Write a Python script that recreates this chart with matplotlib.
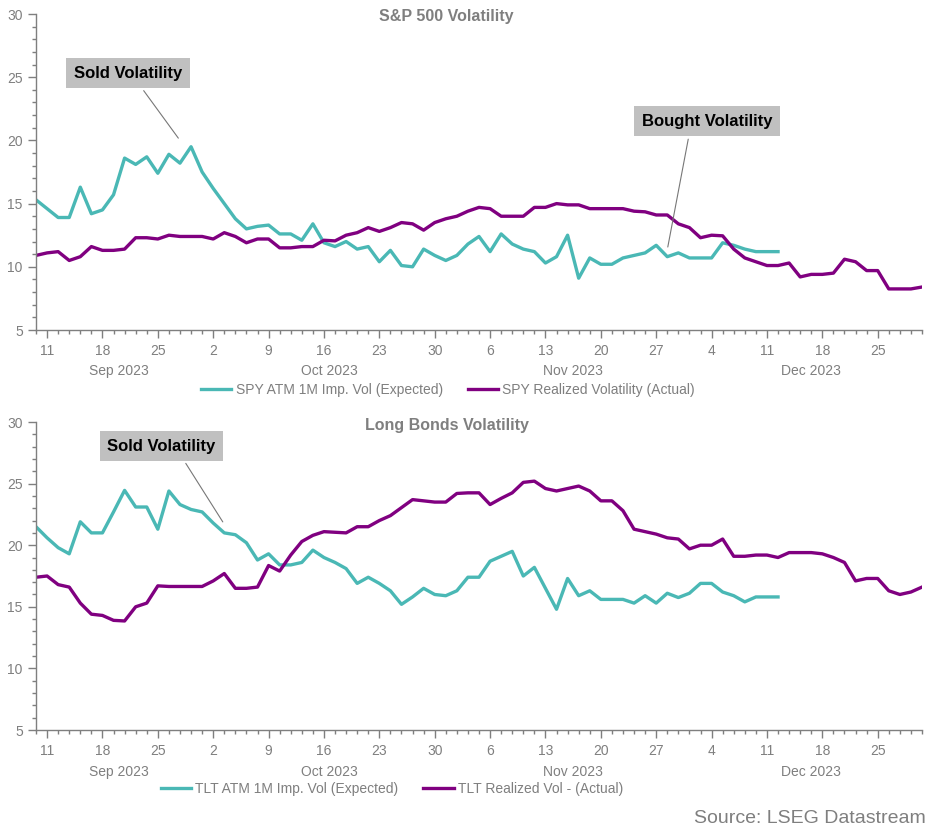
import numpy as np
import pandas as pd
import matplotlib
matplotlib.use("Agg")
import matplotlib.pyplot as plt
from matplotlib.ticker import MultipleLocator, FixedLocator
import matplotlib.transforms as mtransforms

plt.rcParams['font.family'] = ['Liberation Sans Narrow', 'Liberation Sans', 'DejaVu Sans']

# business days shown on the axis
dates = pd.bdate_range('2023-09-08', '2023-12-29')

spy_implied = [15.3, 14.6, 13.9, 13.9, 16.3, 14.2, 14.5, 15.7, 18.6, 18.1,
               18.7, 17.4, 18.9, 18.2, 19.5, 17.5, 16.2, 15.0, 13.8, 13.0,
               13.2, 13.3, 12.6, 12.6, 12.1, 13.4, 11.9, 11.6, 12.0, 11.4,
               11.6, 10.4, 11.3, 10.1, 10.0, 11.4, 10.9, 10.5, 10.9, 11.8,
               12.4, 11.2, 12.6, 11.8, 11.4, 11.2, 10.3, 10.8, 12.5, 9.1,
               10.7, 10.2, 10.2, 10.7, 10.9, 11.1, 11.7, 10.8, 11.1, 10.7,
               10.7, 10.7, 11.9, 11.7, 11.4, 11.2, 11.2, 11.2]
spy_realized = [10.9, 11.1, 11.2, 10.5, 10.8, 11.6, 11.3, 11.3, 11.4, 12.3,
                12.3, 12.2, 12.5, 12.4, 12.4, 12.4, 12.2, 12.7, 12.4, 11.9,
                12.2, 12.2, 11.5, 11.5, 11.6, 11.6, 12.1, 12.05, 12.5, 12.7,
                13.1, 12.8, 13.1, 13.5, 13.4, 12.9, 13.5, 13.8, 14.0, 14.4,
                14.7, 14.6, 14.0, 14.0, 14.0, 14.7, 14.7, 15.0, 14.9, 14.9,
                14.6, 14.6, 14.6, 14.6, 14.4, 14.35, 14.1, 14.1, 13.4, 13.1,
                12.3, 12.5, 12.45, 11.4, 10.7, 10.4, 10.1, 10.1, 10.3, 9.2,
                9.4, 9.4, 9.5, 10.6, 10.4, 9.7, 9.7, 8.25, 8.25, 8.25, 8.4]

tlt_implied = [21.5, 20.6, 19.8, 19.3, 21.9, 21.0, 21.0, 22.7, 24.45, 23.1,
               23.1, 21.3, 24.4, 23.3, 22.9, 22.7, 21.8, 21.0, 20.85, 20.2,
               18.8, 19.3, 18.4, 18.4, 18.6, 19.6, 19.0, 18.6, 18.1, 16.9,
               17.4, 16.9, 16.3, 15.2, 15.8, 16.5, 16.0, 15.9, 16.3, 17.4,
               17.4, 18.7, 19.1, 19.5, 17.5, 18.2, 16.5, 14.8, 17.3, 15.9,
               16.3, 15.6, 15.6, 15.6, 15.3, 15.9, 15.3, 16.1, 15.75, 16.1,
               16.9, 16.9, 16.2, 15.9, 15.4, 15.8, 15.8, 15.8]
tlt_realized = [17.4, 17.5, 16.8, 16.6, 15.3, 14.4, 14.3, 13.9, 13.85, 15.0,
                15.3, 16.7, 16.65, 16.65, 16.65, 16.65, 17.1, 17.7, 16.5, 16.5,
                16.6, 18.35, 17.9, 19.2, 20.3, 20.8, 21.1, 21.05, 21.0, 21.5,
                21.5, 22.0, 22.4, 23.05, 23.7, 23.6, 23.5, 23.5, 24.2, 24.25,
                24.25, 23.3, 23.8, 24.25, 25.1, 25.2, 24.6, 24.4, 24.6, 24.8,
                24.4, 23.6, 23.6, 22.8, 21.3, 21.1, 20.9, 20.6, 20.5, 19.7,
                20.0, 20.0, 20.5, 19.1, 19.1, 19.2, 19.2, 19.0, 19.4, 19.4,
                19.4, 19.3, 19.0, 18.6, 17.1, 17.3, 17.3, 16.3, 16.0, 16.2, 16.6]

TEAL = '#4ab8b5'
PURPLE = '#800080'
GREY = '#7f7f7f'

fig = plt.figure(figsize=(9.28, 8.30), dpi=100)
ax1 = fig.add_axes([36 / 928, 1 - 330 / 830, 886 / 928, 316 / 830])
ax2 = fig.add_axes([36 / 928, 1 - 730 / 830, 886 / 928, 308 / 830])

idx = np.arange(len(dates))
mondays = [i for i, d in enumerate(dates) if d.weekday() == 0]


def style_axis(ax, month_y):
    ax.set_xlim(0, len(dates) - 1)
    ax.set_ylim(5, 30)
    for s in ['top', 'right']:
        ax.spines[s].set_visible(False)
    for s in ['left', 'bottom']:
        ax.spines[s].set_color(GREY)
        ax.spines[s].set_linewidth(1.0)
    ax.yaxis.set_major_locator(MultipleLocator(5))
    ax.yaxis.set_minor_locator(MultipleLocator(1))
    ax.xaxis.set_major_locator(FixedLocator(mondays))
    ax.xaxis.set_minor_locator(MultipleLocator(1))
    ax.set_xticklabels([str(dates[i].day) for i in mondays])
    ax.tick_params(axis='both', which='major', colors=GREY, labelsize=10, length=6, width=1)
    ax.tick_params(axis='both', which='minor', colors=GREY, length=3, width=1)
    ax.tick_params(axis='x', pad=4)
    # month labels centred under each month's span
    trans = mtransforms.blended_transform_factory(ax.transData, ax.transAxes)
    months = pd.Series(idx, index=dates).groupby(dates.to_period('M'))
    for per, grp in months:
        ax.text((grp.min() + grp.max()) / 2, month_y, per.strftime('%b %Y'),
                transform=trans, ha='center', va='center', color=GREY, fontsize=10)


# top chart
ax1.plot(idx[:len(spy_implied)], spy_implied, color=TEAL, lw=2.4, label='SPY ATM 1M Imp. Vol (Expected)')
ax1.plot(idx[:len(spy_realized)], spy_realized, color=PURPLE, lw=2.4, label='SPY Realized Volatility (Actual)')
style_axis(ax1, -0.13)
fig.text(446 / 928, 1 - 17 / 830, 'S&P 500 Volatility', ha='center', va='center',
         fontsize=11.5, fontweight='bold', color=GREY)
ax1.legend(loc='center', bbox_to_anchor=(448 / 928, 1 - 390 / 830), bbox_transform=fig.transFigure,
           ncol=2, frameon=False, fontsize=10, labelcolor=GREY, handlelength=2.2,
           handletextpad=0.3, columnspacing=1.8)

box = dict(boxstyle='square,pad=0.45', fc='#c0c0c0', ec='none')
ax1.annotate('Sold Volatility', xy=(13.0, 20.0), xytext=(8.3, 25.3),
             ha='center', va='center', fontsize=12, fontweight='bold', color='black', bbox=box,
             arrowprops=dict(arrowstyle='-', color='#777777', lw=0.8, relpos=(0.58, 0)))
ax1.annotate('Bought Volatility', xy=(57.0, 11.35), xytext=(60.6, 21.5),
             ha='center', va='center', fontsize=12, fontweight='bold', color='black', bbox=box,
             arrowprops=dict(arrowstyle='-', color='#777777', lw=0.8, relpos=(0.37, 0)))

# bottom chart
ax2.plot(idx[:len(tlt_implied)], tlt_implied, color=TEAL, lw=2.4, label='TLT ATM 1M Imp. Vol (Expected)')
ax2.plot(idx[:len(tlt_realized)], tlt_realized, color=PURPLE, lw=2.4, label='TLT Realized Vol - (Actual)')
style_axis(ax2, -0.136)
fig.text(447 / 928, 1 - 425 / 830, 'Long Bonds Volatility', ha='center', va='center',
         fontsize=11.5, fontweight='bold', color=GREY)
ax2.legend(loc='center', bbox_to_anchor=(392 / 928, 1 - 789 / 830), bbox_transform=fig.transFigure,
           ncol=2, frameon=False, fontsize=10, labelcolor=GREY, handlelength=2.2,
           handletextpad=0.3, columnspacing=1.8)
ax2.annotate('Sold Volatility', xy=(17.0, 21.7), xytext=(11.3, 28.05),
             ha='center', va='center', fontsize=12, fontweight='bold', color='black', bbox=box,
             arrowprops=dict(arrowstyle='-', color='#777777', lw=0.8, relpos=(0.67, 0)))

fig.text(926 / 928, 1 - 818 / 830, 'Source: LSEG Datastream', ha='right', va='center',
         fontsize=14, color=GREY)

fig.savefig('out.png', dpi=100)
